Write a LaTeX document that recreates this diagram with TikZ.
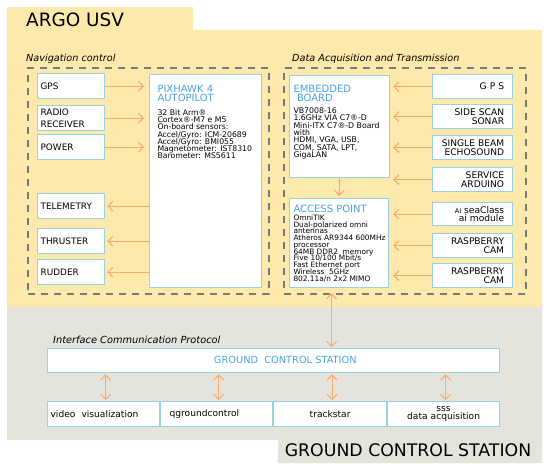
\documentclass[tikz,border=0pt]{standalone}
\usepackage{fontspec}
\setmainfont{DejaVu Sans}
\usetikzlibrary{arrows.meta}
\setlength{\lineskiplimit}{-10pt}
\definecolor{bgyellow}{HTML}{FDE9AC}
\definecolor{bggray}{HTML}{E4E4DC}
\definecolor{boxline}{HTML}{96D2E1}
\definecolor{titleblue}{HTML}{4AA3DF}
\definecolor{arrorange}{HTML}{F9AA6E}
\definecolor{dashgray}{HTML}{7A7A7A}
\begin{document}
\begin{tikzpicture}[x=1pt,y=-1pt,
  box/.style={draw=boxline, line width=1.2pt, fill=white, rectangle, inner ysep=0pt, anchor=north west},
  lbox/.style={box, minimum height=25pt, text width=61pt, inner xsep=3pt, align=left,
    font=\fontsize{8.9}{12.5}\selectfont},
  rbox/.style={box, minimum height=24pt, text width=63pt, inner xsep=8.5pt, align=right,
    font=\fontsize{9.1}{8.5}\selectfont},
  bbox/.style={box, minimum height=25pt, font=\fontsize{9.1}{8.5}\selectfont},
  bigbox/.style={box, inner sep=0pt},
  ttl/.style={anchor=north west, inner sep=0pt, text=titleblue, align=left,
    font=\fontsize{10}{9}\selectfont},
  body/.style={anchor=north west, inner sep=0pt, align=left,
    font=\fontsize{7.75}{7.2}\selectfont},
  sect/.style={anchor=base west, inner sep=0pt, font=\fontsize{9.7}{10}\selectfont\itshape},
  frame/.style={draw=dashgray, line width=2.4pt, dash pattern=on 7pt off 6pt, rectangle,
    anchor=north west, inner sep=0pt},
  arr/.style={draw=arrorange, line width=1.1pt, -{Straight Barb[length=5pt,width=10pt]}},
  darr/.style={draw=arrorange, line width=1.1pt,
    {Straight Barb[length=5pt,width=10pt]}-{Straight Barb[length=5pt,width=10pt]}},
  big/.style={inner sep=0pt, font=\fontsize{18.4}{20}\selectfont}
]
\useasboundingbox (0,0) rectangle (550,472);
% backgrounds
\fill[bgyellow] (7,7) -- (193,7) -- (193,30) -- (542,30) -- (542,307) -- (7,307) -- cycle;
\fill[bggray] (7,307) -- (542,307) -- (542,463) -- (278,463) -- (278,440) -- (7,440) -- cycle;

\node[big, anchor=base west] (argo) at (26,26.7) {ARGO USV};
\node[big, anchor=base, font=\fontsize{17.3}{20}\selectfont] (gcsbig) at (408,456.5) {GROUND CONTROL STATION};

% navigation control
\node[sect] (navlbl) at (26,61.7) {Navigation control};
\node[frame, minimum width=241pt, minimum height=226pt] (navframe) at (27,67) {};

\node[lbox] (gps) at (37,73) {GPS};
\node[lbox] (radio) at (37,105) {RADIO\\RECEIVER};
\node[lbox] (power) at (37,134) {POWER};
\node[lbox] (telem) at (37,193) {TELEMETRY};
\node[lbox] (thrust) at (37,228) {THRUSTER};
\node[lbox] (rudder) at (37,259) {RUDDER};

\node[bigbox, minimum width=112pt, minimum height=213pt] (pix) at (149,74) {};
\node[ttl] (pixttl) at (157.3,85.2) {PIXHAWK 4\\AUTOPILOT};
\node[body] (pixbody) at (157.3,109.4) {32 Bit Arm®\\Cortex®-M7 e M5\\On-board sensors:\\Accel/Gyro: ICM-20689\\Accel/Gyro: BMI055\\Magnetometer: IST8310\\Barometer: MS5611};

\foreach \n in {gps,radio,power}
  \draw[arr, shorten >=5pt] (\n.east) -- (\n.east -| pix.west);
\foreach \n in {telem,thrust,rudder}
  \draw[arr, shorten >=2pt] (\n.east -| pix.west) -- (\n.east);

% data acquisition
\node[sect] (dalbl) at (292,61.7) {Data Acquisition and Transmission};
\node[frame, minimum width=242pt, minimum height=226pt] (daframe) at (283,67) {};

\node[bigbox, minimum width=100pt, minimum height=102pt] (emb) at (289,75) {};
\node[ttl] (embttl) at (293.3,85.2) {EMBEDDED\\\hspace*{3.5pt}BOARD};
\node[body, font=\fontsize{7.8}{7.4}\selectfont] (embbody) at (293.3,107.4) {VB7008-16\\1.6GHz VIA C7®-D\\Mini-ITX C7®-D Board\\with\\HDMI, VGA, USB,\\COM, SATA, LPT,\\GigaLAN};

\node[bigbox, minimum width=99pt, minimum height=89pt] (acc) at (289,198) {};
\node[ttl] (accttl) at (293.3,204.6) {ACCESS POINT};
\node[body, font=\fontsize{7.4}{6.75}\selectfont] (accbody) at (293.3,214.6) {OmniTIK\\Dual-polarized omni\\antennas\\Atheros AR9344 600MHz\\processor\\64MB DDR2~ memory\\Five 10/100 Mbit/s\\Fast Ethernet port\\Wireless~ 5GHz\\802.11a/n 2x2 MIMO};

\node[rbox] (rgps) at (432,74) {G P S};
\node[rbox] (sonar) at (432,104) {SIDE SCAN\\SONAR};
\node[rbox] (echo) at (432,135) {SINGLE BEAM\\ECHOSOUND};
\node[rbox] (ard) at (432,167) {SERVICE\\ARDUINO};
\node[rbox, minimum height=23pt] (ai) at (432,202) {{\fontsize{6.5}{8}\selectfont AI} seaClass\\ai module};
\node[rbox] (cam1) at (432,233) {RASPBERRY\\CAM};
\node[rbox] (cam2) at (432,263) {RASPBERRY\\CAM};

\foreach \n in {rgps,sonar,echo,ard}
  \draw[arr, shorten >=3pt] (\n.west) -- (\n.west -| emb.east);
\foreach \n in {ai,cam1,cam2}
  \draw[arr, shorten >=4pt] (\n.west) -- (\n.west -| acc.east);
\draw[arr, shorten >=2pt] (emb.south) -- (acc.north);

% ground control
\node[sect, font=\fontsize{9.8}{10}\selectfont\itshape] (icp) at (53,343) {Interface Communication Protocol};
\node[box, minimum width=452pt, minimum height=24pt] (gcs) at (47,348) {};
\node[inner sep=0pt, anchor=base, text=titleblue, font=\fontsize{9.8}{10}\selectfont] (gcstxt) at (285.3,363.3) {GROUND~ CONTROL STATION};

\node[bbox, minimum width=112pt, text width=106pt, inner xsep=3pt, align=left] (vv) at (47,401) {video~ visualization};
\node[bbox, minimum width=112pt, text width=94pt, inner xsep=9pt, align=left] (qgc) at (160,401) {qgroundcontrol};
\node[bbox, minimum width=113pt, text width=107pt, inner xsep=3pt, align=center] (ts) at (273,401) {trackstar};
\node[bbox, minimum width=112pt, text width=106pt, inner xsep=3pt, align=center] (sss) at (387,401) {sss\\data acquisition};

\draw[darr, shorten <=5pt, shorten >=1pt] ([xshift=-7.5pt]acc.south) -- ([xshift=-7.5pt]acc.south |- gcs.north);
\foreach \n in {vv,qgc,ts,sss}
  \draw[darr, shorten <=1pt, shorten >=1pt] ([xshift=2pt]\n.north |- gcs.south) -- ([xshift=2pt]\n.north);
\end{tikzpicture}
\end{document}
